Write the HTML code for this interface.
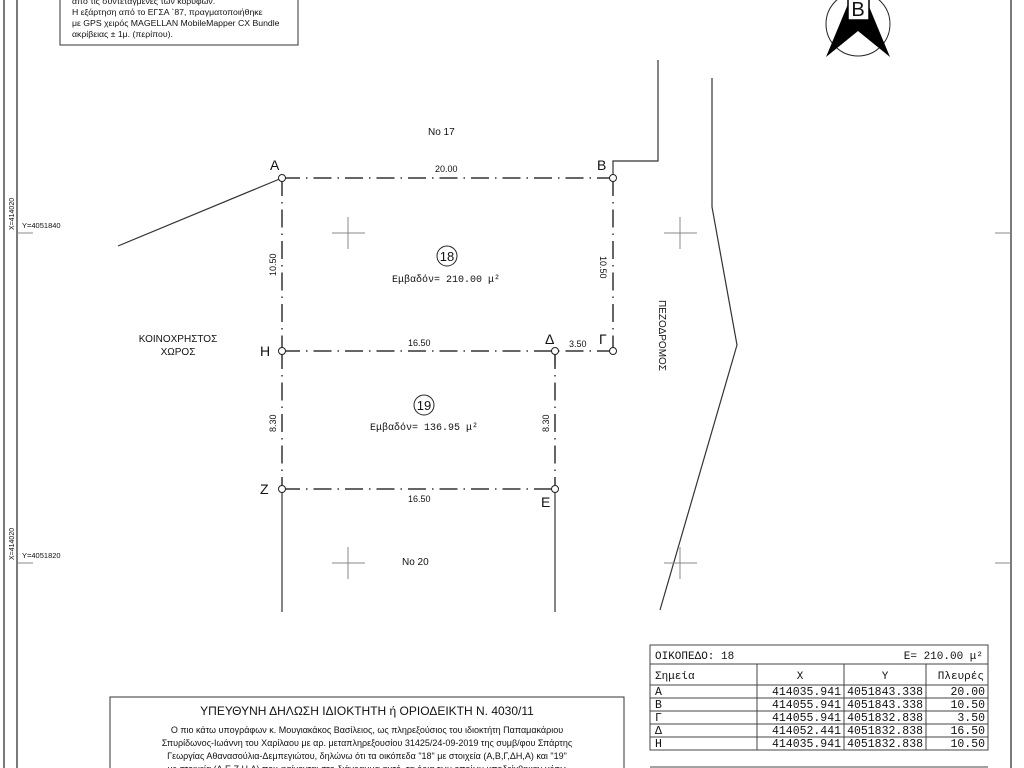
<!DOCTYPE html>
<html><head><meta charset="utf-8"><style>
html,body{margin:0;padding:0;background:#fff;}
svg{display:block}
text{font-family:"Liberation Sans",sans-serif;fill:#111}
text.m,.m text{font-family:"Liberation Mono",monospace}
</style></head><body>
<svg width="1024" height="768" viewBox="0 0 1024 768" xmlns="http://www.w3.org/2000/svg">
<g stroke="#333" stroke-width="1.3" fill="none">
<line x1="4" y1="0" x2="4" y2="768"/>
<line x1="17" y1="0" x2="17" y2="768"/>
<line x1="1011" y1="0" x2="1011" y2="768"/>
</g>
<g stroke="#888" stroke-width="1">
<line x1="17" y1="233" x2="33" y2="233"/><line x1="17" y1="563" x2="33" y2="563"/>
<line x1="995" y1="233" x2="1011" y2="233"/><line x1="995" y1="563" x2="1011" y2="563"/>
</g>
<text x="14" y="230" font-size="7" transform="rotate(-90 14 230)">X=414020</text>
<text x="14" y="560" font-size="7" transform="rotate(-90 14 560)">X=414020</text>
<text x="22" y="228" font-size="7.5">Y=4051840</text>
<text x="22" y="558" font-size="7.5">Y=4051820</text>

<rect x="60" y="-5" width="238" height="50" fill="none" stroke="#333" stroke-width="1"/>
<text x="72" y="4" font-size="8.7">από τις συντεταγμένες των κορυφών.</text>
<text x="72" y="15" font-size="8.7">Η εξάρτηση από το ΕΓΣΑ `87, πραγματοποιήθηκε</text>
<text x="72" y="26" font-size="8.7">με GPS χειρός MAGELLAN MobileMapper CX Bundle</text>
<text x="72" y="37" font-size="8.7">ακρίβειας ± 1μ. (περίπου).</text>

<circle cx="858" cy="24" r="32" fill="none" stroke="#222" stroke-width="1"/>
<polygon points="858,-20 826,57 858,31 890,57" fill="#000"/>
<rect x="848" y="-3" width="21" height="23" fill="#fff" stroke="#000" stroke-width="1.5"/>
<text x="858" y="16" font-size="20" text-anchor="middle">B</text>

<g stroke="#333" stroke-width="1.2" fill="none">
<polyline points="658,60 658,161 613,161 613,178"/>
<polyline points="712,78 712,207 737,345 660,610"/>
<line x1="118" y1="246" x2="282" y2="178"/>
<line x1="282" y1="489" x2="282" y2="612"/>
<line x1="555" y1="489" x2="555" y2="612"/>
<line x1="555" y1="351" x2="555" y2="365"/>
</g>
<g stroke="#888" stroke-width="1">
<line x1="332" y1="233" x2="365" y2="233"/><line x1="348" y1="217" x2="348" y2="249"/>
<line x1="664" y1="233" x2="697" y2="233"/><line x1="680" y1="217" x2="680" y2="249"/>
<line x1="332" y1="563" x2="365" y2="563"/><line x1="348" y1="547" x2="348" y2="579"/>
<line x1="664" y1="563" x2="697" y2="563"/><line x1="680" y1="547" x2="680" y2="579"/>
</g>
<g stroke="#333" stroke-width="1.5" fill="none" stroke-dasharray="18,6,1.5,6">
<line x1="282" y1="178" x2="613" y2="178"/>
<line x1="613" y1="178" x2="613" y2="351"/>
<line x1="282" y1="178" x2="282" y2="351"/>
<line x1="282" y1="351" x2="613" y2="351"/>
<line x1="282" y1="351" x2="282" y2="489"/>
<line x1="555" y1="351" x2="555" y2="489"/>
<line x1="282" y1="489" x2="555" y2="489"/>
</g>
<g fill="#fff" stroke="#222" stroke-width="1">
<circle cx="282" cy="178" r="3.5"/><circle cx="613" cy="178" r="3.5"/>
<circle cx="613" cy="351" r="3.5"/><circle cx="555" cy="351" r="3.5"/>
<circle cx="282" cy="351" r="3.5"/><circle cx="282" cy="489" r="3.5"/>
<circle cx="555" cy="489" r="3.5"/>
</g>
<g font-size="14">
<text x="270" y="170">A</text><text x="597" y="170">B</text>
<text x="599" y="344">Γ</text><text x="545" y="344">Δ</text>
<text x="260" y="356">H</text><text x="260" y="494">Z</text>
<text x="541" y="507">E</text>
</g>
<g font-size="9">
<text x="435" y="172">20.00</text>
<text x="408" y="346">16.50</text>
<text x="569" y="347">3.50</text>
<text x="408" y="502">16.50</text>
<text x="276" y="276" transform="rotate(-90 276 276)">10.50</text>
<text x="600" y="256" transform="rotate(90 600 256)">10.50</text>
<text x="276" y="432" transform="rotate(-90 276 432)">8.30</text>
<text x="549" y="432" transform="rotate(-90 549 432)">8.30</text>
</g>
<text x="428" y="135" font-size="10">No 17</text>
<text x="402" y="565" font-size="10">No 20</text>
<text x="178" y="342" font-size="10" text-anchor="middle">ΚΟΙΝΟΧΡΗΣΤΟΣ</text>
<text x="178" y="355" font-size="10" text-anchor="middle">ΧΩΡΟΣ</text>
<text x="659" y="300" font-size="10" transform="rotate(90 659 300)">ΠΕΖΟΔΡΟΜΟΣ</text>

<circle cx="447" cy="256" r="10" fill="none" stroke="#222"/>
<text x="447" y="261" font-size="13" text-anchor="middle">18</text>
<text x="392" y="282" font-size="10" class="m">Εμβαδόν= 210.00 μ²</text>
<circle cx="424" cy="405" r="10" fill="none" stroke="#222"/>
<text x="424" y="410" font-size="13" text-anchor="middle">19</text>
<text x="370" y="430" font-size="10" class="m">Εμβαδόν= 136.95 μ²</text>

<g stroke="#444" stroke-width="1" fill="none">
<rect x="650" y="645" width="338" height="105"/>
<line x1="650" y1="664" x2="988" y2="664"/>
<line x1="650" y1="685" x2="988" y2="685"/>
<line x1="650" y1="698" x2="988" y2="698"/>
<line x1="650" y1="711" x2="988" y2="711"/>
<line x1="650" y1="724" x2="988" y2="724"/>
<line x1="650" y1="737" x2="988" y2="737"/>
<line x1="757" y1="664" x2="757" y2="750"/>
<line x1="844" y1="664" x2="844" y2="750"/>
<line x1="926" y1="664" x2="926" y2="750"/>
<line x1="650" y1="767" x2="988" y2="767"/>
</g>
<g class="m" font-size="11">
<text x="655" y="659">ΟΙΚΟΠΕΔΟ: 18</text>
<text x="983" y="659" text-anchor="end">Ε= 210.00 μ²</text>
<text x="655" y="679">Σημεία</text>
<text x="800" y="679" text-anchor="middle">X</text>
<text x="885" y="679" text-anchor="middle">Y</text>
<text x="984" y="679" text-anchor="end">Πλευρές</text>
</g>
<g class="m" font-size="11.5">
<text x="655" y="695">Α</text><text x="841" y="695" text-anchor="end">414035.941</text><text x="923" y="695" text-anchor="end">4051843.338</text><text x="985" y="695" text-anchor="end">20.00</text>
<text x="655" y="708">Β</text><text x="841" y="708" text-anchor="end">414055.941</text><text x="923" y="708" text-anchor="end">4051843.338</text><text x="985" y="708" text-anchor="end">10.50</text>
<text x="655" y="721">Γ</text><text x="841" y="721" text-anchor="end">414055.941</text><text x="923" y="721" text-anchor="end">4051832.838</text><text x="985" y="721" text-anchor="end">3.50</text>
<text x="655" y="734">Δ</text><text x="841" y="734" text-anchor="end">414052.441</text><text x="923" y="734" text-anchor="end">4051832.838</text><text x="985" y="734" text-anchor="end">16.50</text>
<text x="655" y="747">Η</text><text x="841" y="747" text-anchor="end">414035.941</text><text x="923" y="747" text-anchor="end">4051832.838</text><text x="985" y="747" text-anchor="end">10.50</text>
</g>

<rect x="110" y="697" width="514" height="80" fill="none" stroke="#333" stroke-width="1"/>
<text x="367" y="715" font-size="12" text-anchor="middle">ΥΠΕΥΘΥΝΗ  ΔΗΛΩΣΗ  ΙΔΙΟΚΤΗΤΗ ή ΟΡΙΟΔΕΙΚΤΗ  Ν. 4030/11</text>
<g font-size="9" text-anchor="middle">
<text x="367" y="733">Ο πιο κάτω υπογράφων κ. Μουγιακάκος Βασίλειος, ως πληρεξούσιος του ιδιοκτήτη Παπαμακάριου</text>
<text x="367" y="746">Σπυρίδωνος-Ιωάννη του Χαρίλαου με αρ. μεταπληρεξουσίου 31425/24-09-2019 της συμβ/φου Σπάρτης</text>
<text x="367" y="759">Γεωργίας Αθανασούλια-Δεμπεγιώτου, δηλώνω ότι τα οικόπεδα "18" με στοιχεία (Α,Β,Γ,ΔΗ,Α) και "19"</text>
<text x="367" y="772">με στοιχεία (Δ,Ε,Ζ,Η,Δ) που φαίνονται στο διάγραμμα αυτό, τα όρια των οποίων υποδείχθηκαν μέσω</text>
</g>
</svg>
</body></html>
